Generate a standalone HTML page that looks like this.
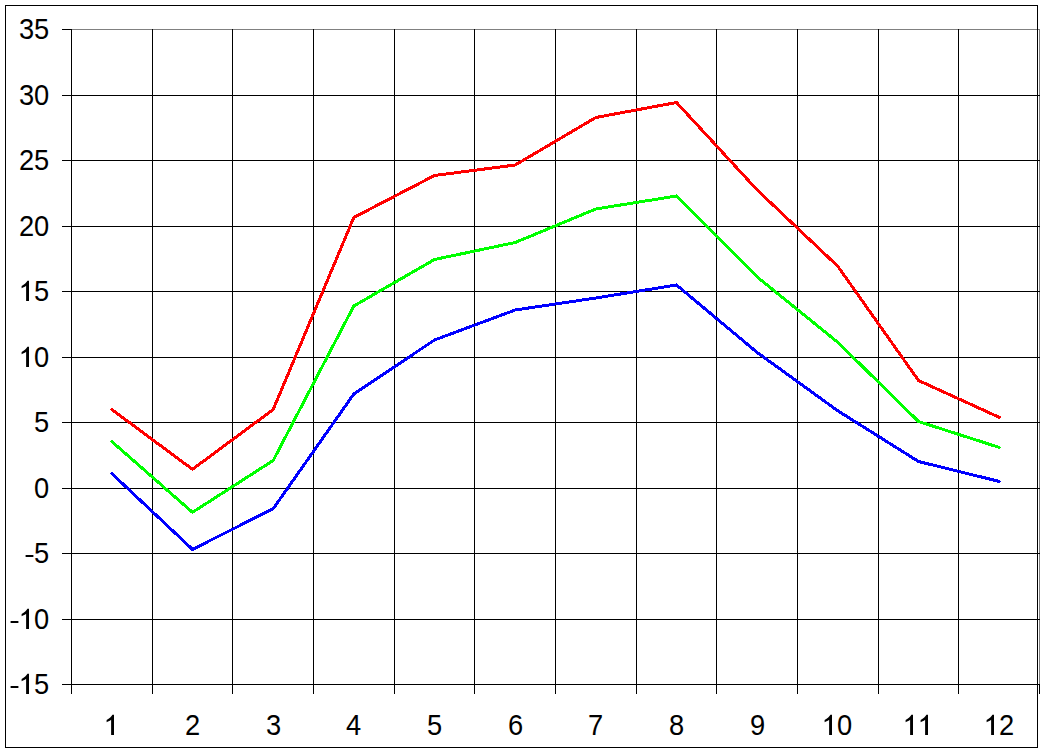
<!DOCTYPE html>
<html><head><meta charset="utf-8"><title>Chart</title>
<style>
html,body{margin:0;padding:0;background:#fff;}
body{width:1043px;height:752px;overflow:hidden;}
svg{display:block;}
text{font-family:"Liberation Sans",sans-serif;font-size:28.0px;fill:#000;}
</style></head><body>
<svg width="1043" height="752" viewBox="0 0 1043 752">
<rect x="0" y="0" width="1043" height="752" fill="#fff"/>
<g shape-rendering="crispEdges" fill="none" stroke-width="1">
<path d="M71 29.5H1040M1039.5 29V685" stroke="#808080"/>
<path d="M62 95.5H1040M62 160.5H1040M62 226.5H1040M62 291.5H1040M62 357.5H1040M62 422.5H1040M62 488.5H1040M62 553.5H1040M62 619.5H1040M62 684.5H1040M62 29.5H72" stroke="#000"/>
<path d="M71.5 29V694M152.5 29V694M232.5 29V694M313.5 29V694M394.5 29V694M474.5 29V694M555.5 29V694M636.5 29V694M716.5 29V694M797.5 29V694M878.5 29V694M958.5 29V694M1039.5 685V694" stroke="#000"/>
<rect x="5.5" y="5.5" width="1032" height="742" stroke="#000"/>
</g>
<polyline points="111.8,473.5 192.5,549.4 273.2,508.7 353.8,394.0 434.5,340.0 515.2,310.0 595.8,298.0 676.5,285.0 757.2,352.5 837.8,410.8 918.5,461.5 999.2,481.4" fill="none" stroke="#0000ff" stroke-width="3" stroke-linejoin="round" stroke-linecap="round" shape-rendering="crispEdges"/>
<polyline points="111.8,441.5 192.5,512.3 273.2,460.5 353.8,306.0 434.5,259.5 515.2,242.5 595.8,209.0 676.5,196.0 757.2,277.0 837.8,342.3 918.5,421.5 999.2,447.4" fill="none" stroke="#00ff00" stroke-width="3" stroke-linejoin="round" stroke-linecap="round" shape-rendering="crispEdges"/>
<polyline points="111.8,409.5 192.5,469.3 273.2,409.5 353.8,217.5 434.5,175.5 515.2,165.0 595.8,117.5 676.5,102.5 757.2,190.0 837.8,266.3 918.5,380.5 999.2,417.3" fill="none" stroke="#ff0000" stroke-width="3" stroke-linejoin="round" stroke-linecap="round" shape-rendering="crispEdges"/>
<g fill="#000">
<text transform="translate(19.10,39.00) scale(0.975,1.04)">3</text><text transform="translate(34.10,39.00) scale(0.975,1.04)">5</text>
<text transform="translate(19.10,105.00) scale(0.975,1.04)">3</text><text transform="translate(34.10,105.00) scale(0.975,1.04)">0</text>
<text transform="translate(19.10,170.00) scale(0.975,1.04)">2</text><text transform="translate(34.10,170.00) scale(0.975,1.04)">5</text>
<text transform="translate(19.10,236.00) scale(0.975,1.04)">2</text><text transform="translate(34.10,236.00) scale(0.975,1.04)">0</text>
<path transform="translate(18.57,301.00) scale(0.013672,-0.013672)" d="M763 0H552V1118Q495 1066 412.5 1023T223 930V1104Q374 1175 487 1276T647 1472H763Z"/><text transform="translate(34.10,301.00) scale(0.975,1.04)">5</text>
<path transform="translate(18.57,367.00) scale(0.013672,-0.013672)" d="M763 0H552V1118Q495 1066 412.5 1023T223 930V1104Q374 1175 487 1276T647 1472H763Z"/><text transform="translate(34.10,367.00) scale(0.975,1.04)">0</text>
<text transform="translate(34.10,432.00) scale(0.975,1.04)">5</text>
<text transform="translate(34.10,498.00) scale(0.975,1.04)">0</text>
<rect x="25.60" y="555.00" width="7.8" height="2"/><text transform="translate(34.10,563.00) scale(0.975,1.04)">5</text>
<rect x="10.60" y="621.00" width="7.8" height="2"/><path transform="translate(18.57,629.00) scale(0.013672,-0.013672)" d="M763 0H552V1118Q495 1066 412.5 1023T223 930V1104Q374 1175 487 1276T647 1472H763Z"/><text transform="translate(34.10,629.00) scale(0.975,1.04)">0</text>
<rect x="10.60" y="686.00" width="7.8" height="2"/><path transform="translate(18.57,694.00) scale(0.013672,-0.013672)" d="M763 0H552V1118Q495 1066 412.5 1023T223 930V1104Q374 1175 487 1276T647 1472H763Z"/><text transform="translate(34.10,694.00) scale(0.975,1.04)">5</text>
<path transform="translate(103.57,735.00) scale(0.013672,-0.013672)" d="M763 0H552V1118Q495 1066 412.5 1023T223 930V1104Q374 1175 487 1276T647 1472H763Z"/>
<text transform="translate(185.10,735.00) scale(0.975,1.04)">2</text>
<text transform="translate(266.10,735.00) scale(0.975,1.04)">3</text>
<text transform="translate(346.10,735.00) scale(0.975,1.04)">4</text>
<text transform="translate(427.10,735.00) scale(0.975,1.04)">5</text>
<text transform="translate(508.10,735.00) scale(0.975,1.04)">6</text>
<text transform="translate(588.10,735.00) scale(0.975,1.04)">7</text>
<text transform="translate(669.10,735.00) scale(0.975,1.04)">8</text>
<text transform="translate(750.10,735.00) scale(0.975,1.04)">9</text>
<path transform="translate(821.57,735.00) scale(0.013672,-0.013672)" d="M763 0H552V1118Q495 1066 412.5 1023T223 930V1104Q374 1175 487 1276T647 1472H763Z"/><text transform="translate(837.10,735.00) scale(0.975,1.04)">0</text>
<path transform="translate(902.57,735.00) scale(0.013672,-0.013672)" d="M763 0H552V1118Q495 1066 412.5 1023T223 930V1104Q374 1175 487 1276T647 1472H763Z"/><path transform="translate(917.57,735.00) scale(0.013672,-0.013672)" d="M763 0H552V1118Q495 1066 412.5 1023T223 930V1104Q374 1175 487 1276T647 1472H763Z"/>
<path transform="translate(983.57,735.00) scale(0.013672,-0.013672)" d="M763 0H552V1118Q495 1066 412.5 1023T223 930V1104Q374 1175 487 1276T647 1472H763Z"/><text transform="translate(999.10,735.00) scale(0.975,1.04)">2</text>
</g>
</svg>
</body></html>
